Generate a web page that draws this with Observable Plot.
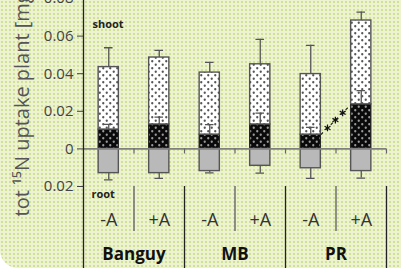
<!DOCTYPE html>
<html><head><meta charset="utf-8">
<script src="https://cdn.jsdelivr.net/npm/d3@7"></script>
<script src="https://cdn.jsdelivr.net/npm/@observablehq/plot@0.6"></script>
<style>
html,body{margin:0;padding:0;background:#fff;}
#wrap{width:401px;height:268px;overflow:hidden;position:relative;
 background-color:#edf3d0;
 background-image: radial-gradient(circle, #cfe195 0.9px, transparent 1.4px);
 background-size:4px 4px;
 border-bottom-left-radius:18px;}
#wrap svg{display:block;}
</style></head><body><div id="wrap"></div>
<script>
// ---- data ----
const groups = ["Banguy", "MB", "PR"];
const treatments = ["-A", "+A", "-A", "+A", "-A", "+A"];
const shootTotal   = [0.0435, 0.0486, 0.0406, 0.0450, 0.0398, 0.0683];
const shootTotalSE = [0.0103, 0.0038, 0.0054, 0.0133, 0.0153, 0.0045];
const shootDark    = [0.0103, 0.0130, 0.0076, 0.0130, 0.0076, 0.0237];
const shootDarkSE  = [0.0027, 0.0039, 0.0053, 0.0060, 0.0039, 0.0073];
const rootVal      = [0.0129, 0.0129, 0.0118, 0.0090, 0.0103, 0.0118];
const rootSE       = [0.0036, 0.0028, 0.0009, 0.0039, 0.0054, 0.0037];
const yTicks = [-0.02, 0, 0.02, 0.04, 0.06, 0.08];
const yLabel = "tot \u00B9\u2075N uptake plant [mg]";

const rows = treatments.map((t, i) => ({
  i, t, group: groups[i >> 1],
  total: shootTotal[i], totalSE: shootTotalSE[i],
  dark: shootDark[i], darkSE: shootDarkSE[i],
  root: -rootVal[i], rootSE: rootSE[i]
}));
const half = 0.2, cap = 0.085;
const bounds = treatments.map((t, i) => i + 0.5);
const withinX = groups.map((g, j) => 2 * j + 0.5);
const betweenX = groups.map((g, j) => 2 * j + 1.5);

// significance link between PR -A and PR +A dark parts
const sx1 = 4 + half, sx2 = 5 - half, sy1 = shootDark[4], sy2 = shootDark[5];
const stars = [0.22, 0.48, 0.72].map(f => ({x: sx1 + f * (sx2 - sx1), y: sy1 + f * (sy2 - sy1)}));

const svg = Plot.plot({
  width: 401, height: 268,
  marginLeft: 83, marginRight: 15, marginTop: 0, marginBottom: 82,
  style: {fontFamily: "Open Sans", fontSize: "15px", background: "none", color: "#333", overflow: "visible"},
  x: {domain: [-0.5, 5.5], axis: null},
  y: {domain: [-0.02, 0.08], range: [186, -2], axis: null},
  marks: [
    Plot.rect(rows, {x1: d => d.i - half, x2: d => d.i + half, y1: 0, y2: "dark", fill: "url(#darkdots)", stroke: "#222", strokeWidth: 1.2}),
    Plot.rect(rows, {x1: d => d.i - half, x2: d => d.i + half, y1: "dark", y2: "total", fill: "url(#whitedots)", stroke: "#555", strokeWidth: 1.4}),
    Plot.rect(rows, {x1: d => d.i - half, x2: d => d.i + half, y1: 0, y2: "root", fill: "#b9b9b9", stroke: "#555", strokeWidth: 1.4}),
    Plot.ruleX(rows, {x: "i", y1: "total", y2: d => d.total + d.totalSE, stroke: "#555", strokeWidth: 1.3}),
    Plot.ruleY(rows, {y: d => d.total + d.totalSE, x1: d => d.i - cap, x2: d => d.i + cap, stroke: "#555", strokeWidth: 1.3}),
    Plot.ruleX(rows, {x: "i", y1: "dark", y2: d => d.dark + d.darkSE, stroke: "#555", strokeWidth: 1.3}),
    Plot.ruleY(rows, {y: d => d.dark + d.darkSE, x1: d => d.i - cap, x2: d => d.i + cap, stroke: "#555", strokeWidth: 1.3}),
    Plot.ruleX(rows, {x: "i", y1: "root", y2: d => d.root - d.rootSE, stroke: "#555", strokeWidth: 1.3}),
    Plot.ruleY(rows, {y: d => d.root - d.rootSE, x1: d => d.i - cap, x2: d => d.i + cap, stroke: "#555", strokeWidth: 1.3}),
    Plot.ruleY([0], {x1: -0.5, x2: 5.5, stroke: "#808080", strokeWidth: 1.6}),
    Plot.ruleX(bounds, {y1: 0, y2: 0, insetBottom: -5, stroke: "#666", strokeWidth: 1.2}),
    Plot.axisY({ticks: yTicks, tickSize: 6, tickPadding: 4, tickFormat: d => d === 0 ? "0" : Math.abs(d).toFixed(2), stroke: "#444", fill: "#444"}),
    Plot.ruleX([-0.5], {insetBottom: -82, stroke: "#222", strokeWidth: 1.3}),
    Plot.ruleX(withinX, {insetTop: 186, insetBottom: -45, stroke: "#666", strokeWidth: 1.4}),
    Plot.ruleX(betweenX, {insetTop: 186, insetBottom: -82, stroke: "#222", strokeWidth: 1.3}),
    Plot.link([0], {x1: () => sx1, y1: () => sy1, x2: () => sx2, y2: () => sy2, stroke: "#222", strokeWidth: 1.2, strokeDasharray: "3,4"}),
    Plot.dot(stars, {x: "x", y: "y", symbol: "asterisk", r: 3.2, stroke: "#111", strokeWidth: 1.2}),
    Plot.text(["shoot"], {frameAnchor: "top-left", dx: 9, dy: 20, textAnchor: "start", fontWeight: "bold", fontSize: 11, fill: "#222"}),
    Plot.text(["root"], {frameAnchor: "bottom-left", dx: 8, dy: 11, textAnchor: "start", fontWeight: "bold", fontSize: 11, fill: "#222"}),
    Plot.text(rows, {x: "i", text: "t", frameAnchor: "bottom", dy: 39, fontSize: 18, fill: "#333"}),
    Plot.text(groups, {x: (d, j) => 2 * j + 0.5, text: d => d, frameAnchor: "bottom", dy: 73, fontSize: 17, fontWeight: "bold", fill: "#111"}),
    Plot.text([yLabel], {frameAnchor: "bottom-left", dx: -55, dy: 30, rotate: -90, textAnchor: "start", fontSize: 20, fill: "#555"})
  ]
});

const defs = d3.select(svg).insert("defs", ":first-child");
function pat(id, bg, dot) {
  const p = defs.append("pattern").attr("id", id).attr("patternUnits", "userSpaceOnUse").attr("width", 7).attr("height", 7);
  p.append("rect").attr("width", 7).attr("height", 7).attr("fill", bg);
  p.append("circle").attr("cx", 1.75).attr("cy", 1.75).attr("r", 1.15).attr("fill", dot);
  p.append("circle").attr("cx", 5.25).attr("cy", 5.25).attr("r", 1.15).attr("fill", dot);
}
pat("whitedots", "#ffffff", "#555");
pat("darkdots", "#0a0a0a", "#9a9a9a");

document.getElementById("wrap").appendChild(svg);
</script>
</body></html>
